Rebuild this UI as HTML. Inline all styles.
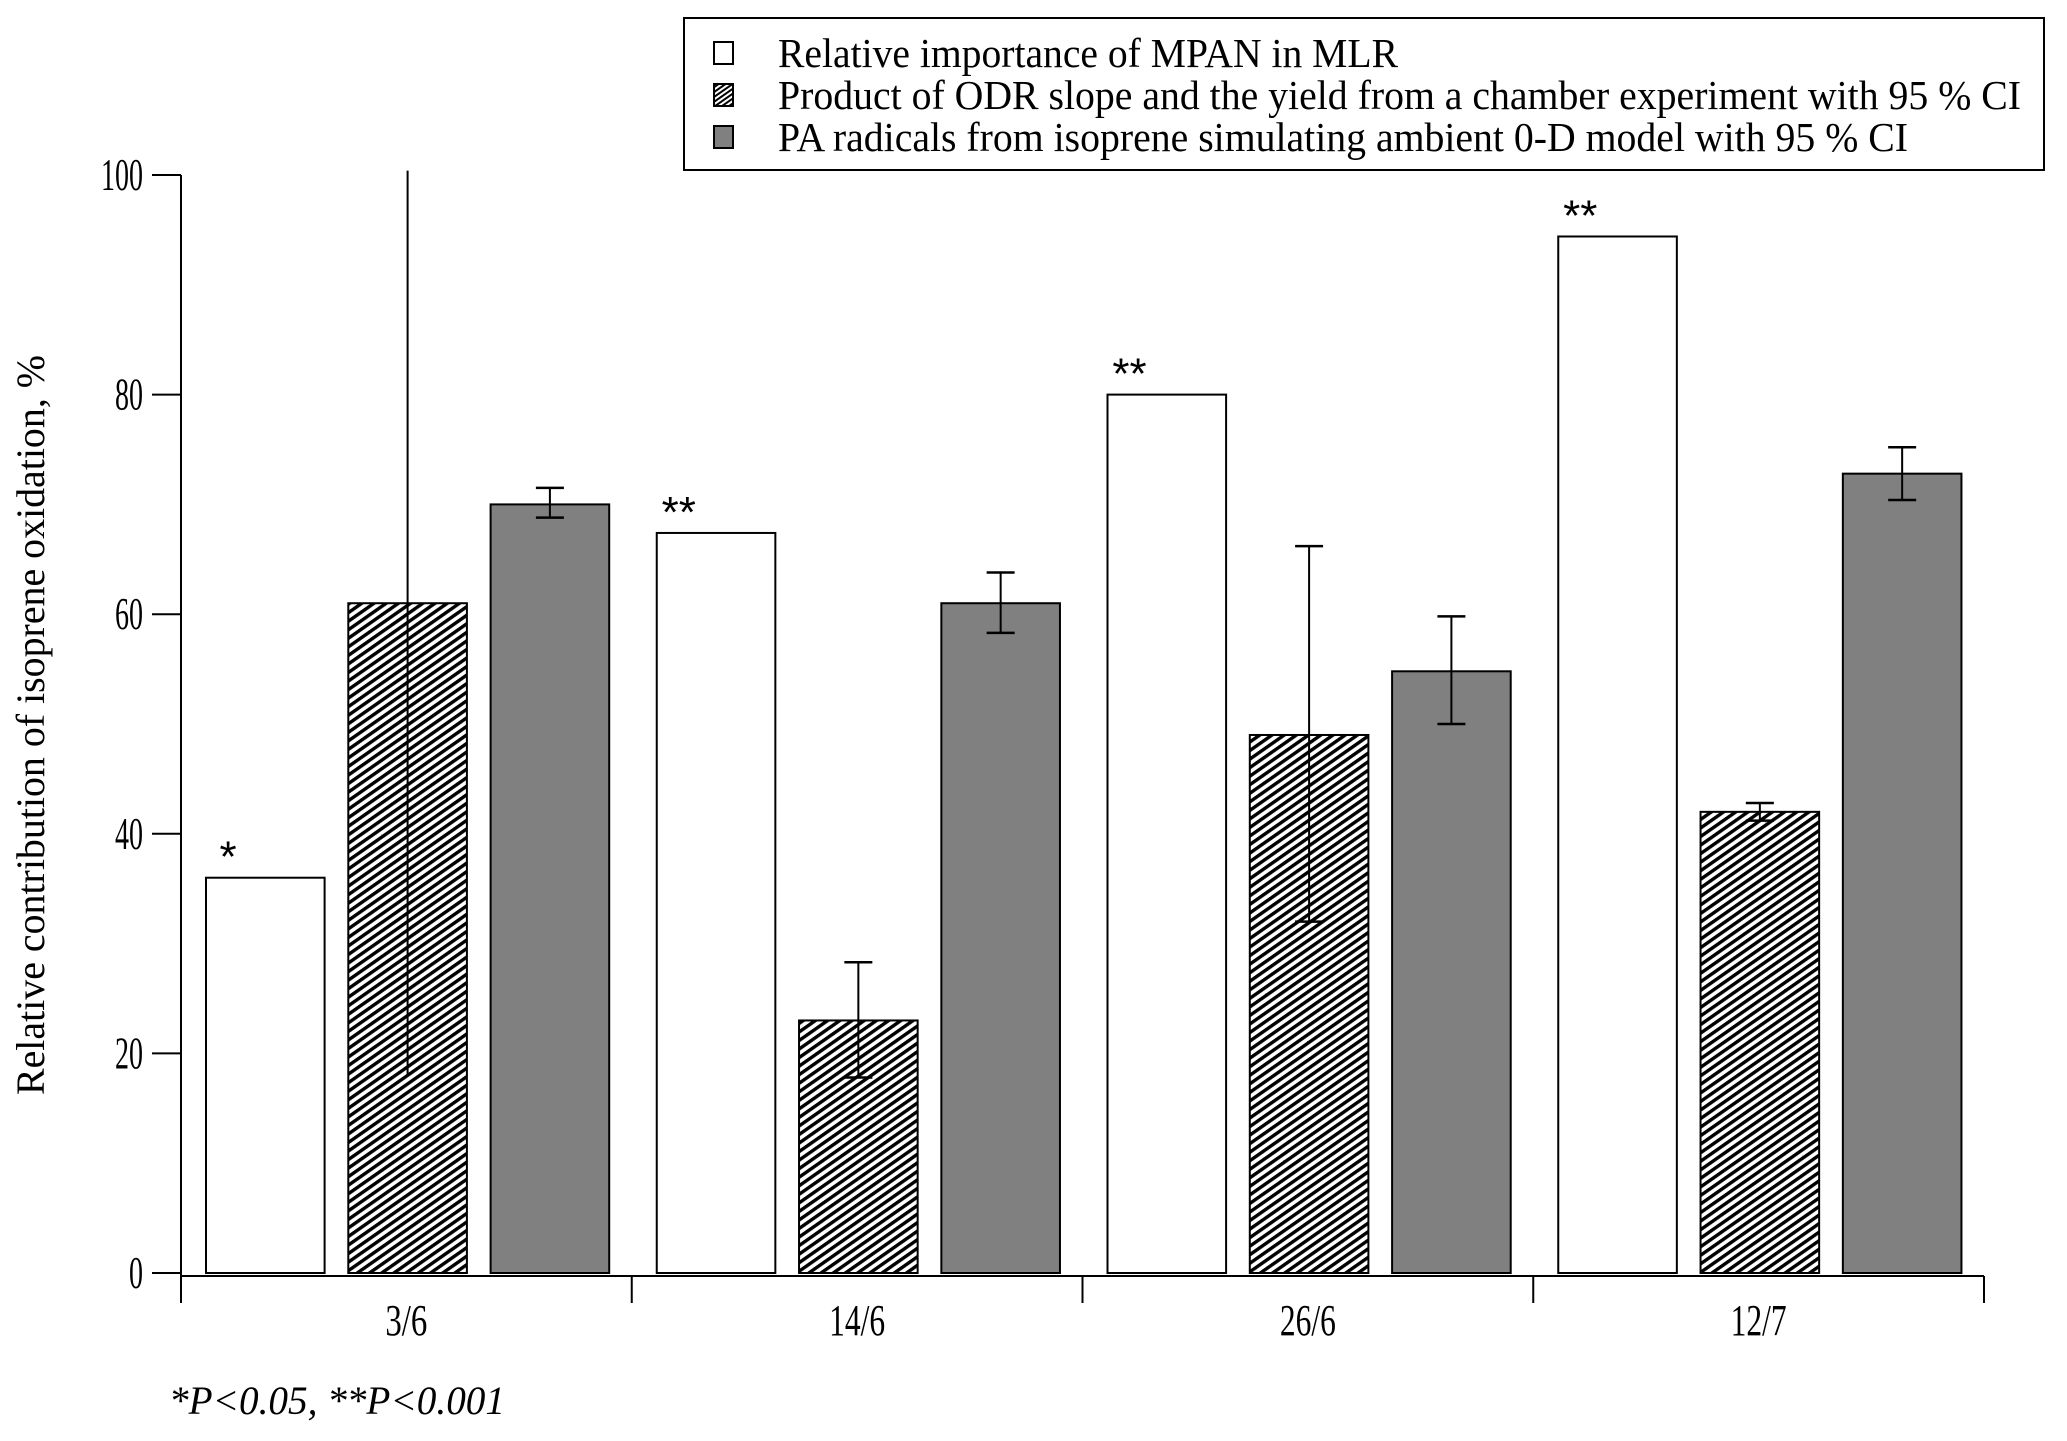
<!DOCTYPE html>
<html><head><meta charset="utf-8"><style>
html,body{margin:0;padding:0;background:#fff;}
svg{display:block;font-family:"Liberation Serif",serif;}
</style></head><body>
<svg id="chart" width="2067" height="1441" viewBox="0 0 2067 1441" xmlns="http://www.w3.org/2000/svg">
<defs>
<pattern id="hatch" patternUnits="userSpaceOnUse" width="7" height="7" patternTransform="rotate(55)">
<rect width="7" height="7" fill="#fff"/>
<rect width="3.4" height="7" fill="#000"/>
</pattern>
<pattern id="hatchs" patternUnits="userSpaceOnUse" width="4" height="4" patternTransform="rotate(55)">
<rect width="4" height="4" fill="#fff"/>
<rect width="2" height="4" fill="#000"/>
</pattern>
</defs>
<g id="plot"></g>
<g>
<rect x="684" y="18" width="1360" height="152" fill="#fff" stroke="#000" stroke-width="2"/>
<rect x="714" y="42" width="19" height="22" fill="#fff" stroke="#000" stroke-width="2"/>
<text x="778" y="67" font-size="41" textLength="620" lengthAdjust="spacingAndGlyphs">Relative importance of MPAN in MLR</text>
<rect x="714" y="84" width="19" height="22" fill="url(#hatchs)" stroke="#000" stroke-width="2"/>
<text x="778" y="109" font-size="41" textLength="1243" lengthAdjust="spacingAndGlyphs">Product of ODR slope and the yield from a chamber experiment with 95 % CI</text>
<rect x="714" y="126" width="19" height="22" fill="#808080" stroke="#000" stroke-width="2"/>
<text x="778" y="151" font-size="41" textLength="1130" lengthAdjust="spacingAndGlyphs">PA radicals from isoprene simulating ambient 0-D model with 95 % CI</text>
</g>
<text transform="translate(44,725) rotate(-90)" text-anchor="middle" font-size="40" textLength="740" lengthAdjust="spacingAndGlyphs">Relative contribution of isoprene oxidation, %</text>
<text x="169" y="1414" font-size="40" font-style="italic" textLength="336" lengthAdjust="spacingAndGlyphs">*P&lt;0.05, **P&lt;0.001</text>
</svg>
<script>
const categories = ["3/6", "14/6", "26/6", "12/7"];
const mlrValues = [36, 67.4, 80, 94.4];
const odrValues = [61, 23, 49, 42];
const odrLow = [18, 17.8, 32, 41.2];
const odrHigh = [100.4, 28.3, 66.2, 42.8];
const odrCaps = [false, true, true, true];
const modelValues = [70, 61, 54.8, 72.8];
const modelLow = [68.8, 58.3, 50, 70.4];
const modelHigh = [71.5, 63.8, 59.8, 75.2];
const significance = ["*", "**", "**", "**"];
const yTicks = [0, 20, 40, 60, 80, 100];

const NS = "http://www.w3.org/2000/svg";
const plot = document.getElementById("plot");
const X0 = 181, X1 = 1984, Y0 = 1273, Y100 = 175;
const groupW = (X1 - X0) / categories.length;
const barW = 118.6, step = 142.3, off = 25;
function y(v){ return Y0 - (v / 100) * (Y0 - Y100); }
function bx(g, s){ return X0 + g * groupW + off + s * step; }
function mk(tag, attrs){ const e = document.createElementNS(NS, tag); for (const k in attrs) e.setAttribute(k, attrs[k]); plot.appendChild(e); return e; }

let e = mk("line", {x1:X0, y1:Y100, x2:X0, y2:Y0+3, stroke:"#000", "stroke-width":2});


yTicks.forEach(t => {
  const l = mk("line", {x1:X0-29, y1:y(t), x2:X0, y2:y(t), stroke:"#000", "stroke-width":2});
  
  
  const s = String(t);
  const tx = mk("text", {x:X0-38, y:y(t)+15, "text-anchor":"end", "font-size":46, textLength: s.length*14, lengthAdjust:"spacingAndGlyphs"});
  tx.textContent = s;
  
  
});
e = mk("line", {x1:X0, y1:Y0+3, x2:X1, y2:Y0+3, stroke:"#000", "stroke-width":2});


for (let i = 0; i <= categories.length; i++) {
  const x = X0 + i * groupW;
  const l = mk("line", {x1:x, y1:Y0+3, x2:x, y2:Y0+30, stroke:"#000", "stroke-width":2});
  
  
}
categories.forEach((c, i) => {
  const tx = mk("text", {x:X0 + (i + 0.5) * groupW, y:1335, "text-anchor":"middle", "font-size":44, textLength: c.length*14, lengthAdjust:"spacingAndGlyphs"});
  tx.textContent = c;
  
  
});

function errBar(cx, lo, hi, caps){
  const l = mk("line", {x1:cx, y1:y(hi), x2:cx, y2:y(lo), stroke:"#000", "stroke-width":2});
  
  
  if (caps) {
    [lo, hi].forEach(v => {
      const c = mk("line", {x1:cx-14, y1:y(v), x2:cx+14, y2:y(v), stroke:"#000", "stroke-width":2.5});
      
      
    });
  }
}

categories.forEach((c, g) => {
  let r = mk("rect", {x:bx(g,0), y:y(mlrValues[g]), width:barW, height:Y0 - y(mlrValues[g]), fill:"#fff", stroke:"#000", "stroke-width":2});
  
  
  const st = mk("text", {x:bx(g,0) + 22, y:y(mlrValues[g]) - 6, "text-anchor":"middle", "font-size":44, "font-family":"Liberation Sans, sans-serif"});
  st.textContent = significance[g];
  
  

  r = mk("rect", {x:bx(g,1), y:y(odrValues[g]), width:barW, height:Y0 - y(odrValues[g]), fill:"url(#hatch)", stroke:"#000", "stroke-width":2});
  
  
  errBar(bx(g,1) + barW/2, odrLow[g], odrHigh[g], odrCaps[g]);

  r = mk("rect", {x:bx(g,2), y:y(modelValues[g]), width:barW, height:Y0 - y(modelValues[g]), fill:"#808080", stroke:"#000", "stroke-width":2});
  
  
  errBar(bx(g,2) + barW/2, modelLow[g], modelHigh[g], true);
});
</script>
</body></html>
